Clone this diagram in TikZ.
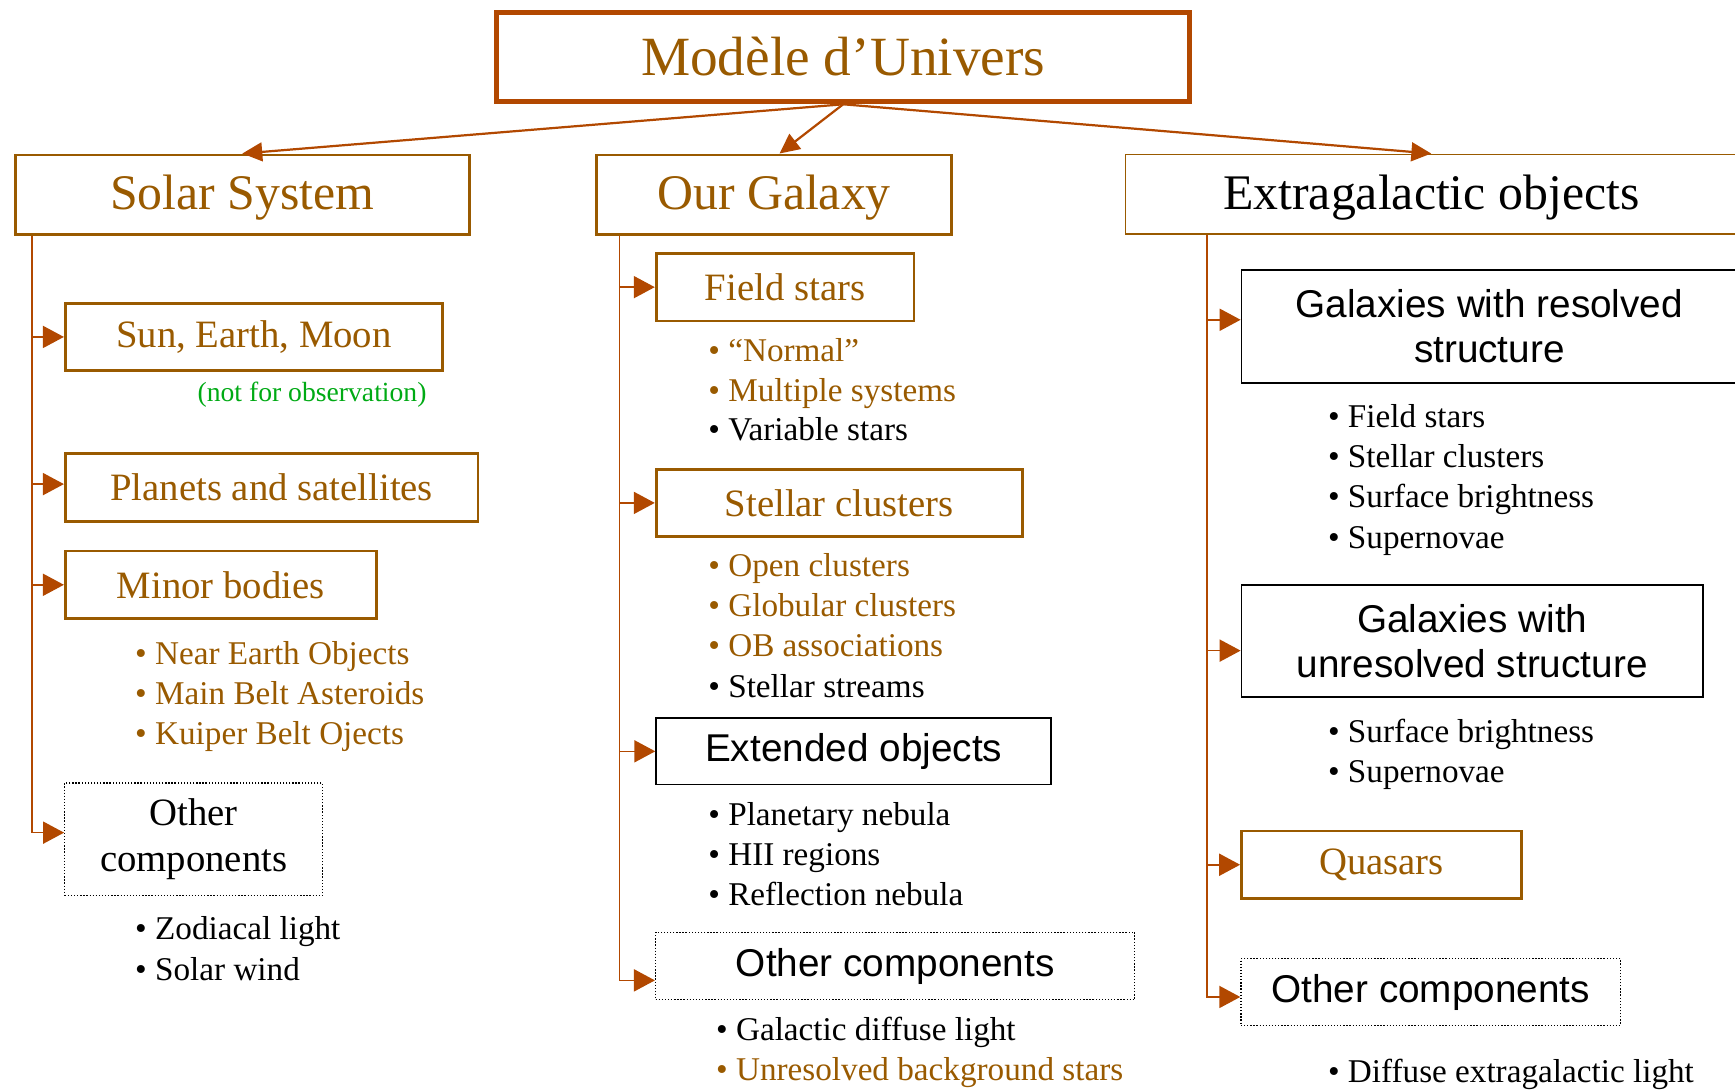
\documentclass[tikz,border=0pt]{standalone}
\usepackage{fontspec}
\setmainfont{Liberation Serif}
\newfontfamily\arial{Liberation Sans}
\usetikzlibrary{arrows.meta}

\definecolor{umber}{RGB}{153,90,0}
\definecolor{rust}{RGB}{178,72,0}
\definecolor{leaf}{RGB}{0,170,20}

\tikzset{
  catbox/.style={draw=umber, line width=2.5pt, text=umber, inner sep=0pt,
    font=\fontsize{35}{42}\selectfont},
  headbox/.style={catbox, text height=37pt, text depth=10pt,
    font=\fontsize{45}{54}\selectfont},
  plainbox/.style={draw=black, line width=1.6pt, inner sep=0pt, align=center,
    font=\arial\fontsize{35}{41}\selectfont},
  otherbox/.style={draw=black, line width=1.2pt, dash pattern=on 1.2pt off 1.6pt,
    inner sep=0pt, align=center},
  bulletline/.style={anchor=west, inner sep=0pt, text height=0.7em, text depth=0.22em,
    font=\fontsize{30}{36}\selectfont},
  down/.style={draw=rust, line width=2pt, -{Triangle[length=18pt,width=17pt]}},
  branch/.style={draw=rust, line width=1.4pt, -{Triangle[length=19pt,width=20pt]}}
}

\begin{document}
\begin{tikzpicture}[x=1pt,y=-1pt]
\useasboundingbox (0,0) rectangle (1568,985);

% top of the tree
\node[catbox, draw=rust, line width=4.5pt, minimum width=626, minimum height=81,
  font=\fontsize{50}{60}\selectfont] (univers) at (762,51.5) {Modèle d’Univers};
\node[headbox, minimum width=410, minimum height=72] (solar) at (219,176) {Solar System};
\node[headbox, minimum width=321, minimum height=72] (galaxy) at (699.5,176) {Our Galaxy};
\node[headbox, line width=1.5pt, text=black, minimum width=553, minimum height=72] (extra) at (1293.5,175.5) {Extragalactic objects};
\draw[down] (univers.south) -- (solar.north);
\draw[down] (univers.south) -- ([xshift=5pt]galaxy.north);
\draw[down] (univers.south) -- (extra.north);

% solar system
\node[catbox, minimum width=341, minimum height=61] (sun) at (229.5,304.5) {Sun, Earth, Moon};
\node[text=leaf, inner sep=0pt, font=\fontsize{25}{30}\selectfont] (noobs) at (282,357) {(not for observation)};
\node[catbox, minimum width=373, minimum height=61] (planets) at (245.5,440.5) {Planets and satellites};
\node[catbox, minimum width=281, minimum height=61] (minor) at (199.5,528.5) {Minor bodies};
\node[bulletline, text=umber] (neo) at (122,598) {• Near Earth Objects};
\node[bulletline, text=umber] (mba) at (122,634) {• Main Belt Asteroids};
\node[bulletline, text=umber] (kbo) at (122,670) {• Kuiper Belt Ojects};
\node[otherbox, minimum width=233, minimum height=102, font=\fontsize{35}{42}\selectfont] (ssOther) at (175,758.5) {Other\\components};
\node[bulletline] (zodi) at (122,847) {• Zodiacal light};
\node[bulletline] (wind) at (122,884) {• Solar wind};

\coordinate (ssTrunk) at (29,213);
\draw[branch] (ssTrunk) |- (sun);
\draw[branch] (ssTrunk) |- ([yshift=3pt]planets.west);
\draw[branch] (ssTrunk) |- (minor);
\draw[branch] (ssTrunk) |- ([yshift=6pt]ssOther.west);

% our galaxy
\node[catbox, minimum width=233, minimum height=61] (field) at (709.5,259.5) {Field stars};
\node[bulletline, text=umber] (normal) at (640,324) {• “Normal”};
\node[bulletline, text=umber] (multiple) at (640,360) {• Multiple systems};
\node[bulletline] (variable) at (640,396) {• Variable stars};
\node[catbox, minimum width=331, minimum height=61] (stellar) at (758.5,454.5) {Stellar clusters};
\node[bulletline, text=umber] (open) at (640,519) {• Open clusters};
\node[bulletline, text=umber] (globular) at (640,555) {• Globular clusters};
\node[bulletline, text=umber] (ob) at (640,591) {• OB associations};
\node[bulletline] (streams) at (640,628) {• Stellar streams};
\node[plainbox, minimum width=357, minimum height=60] (extended) at (771.5,679) {Extended objects};
\node[bulletline] (planetary) at (640,744) {• Planetary nebula};
\node[bulletline] (hii) at (640,780) {• HII regions};
\node[bulletline] (reflection) at (640,816) {• Reflection nebula};
\node[otherbox, minimum width=433, minimum height=61, font=\arial\fontsize{35}{41}\selectfont] (mgOther) at (809,873) {Other components};
\node[bulletline] (diffuse) at (647,938) {• Galactic diffuse light};
\node[bulletline, text=umber] (background) at (647,974) {• Unresolved background stars};

\coordinate (mgTrunk) at (560,213);
\draw[branch] (mgTrunk) |- (field);
\draw[branch] (mgTrunk) |- (stellar);
\draw[branch] (mgTrunk) |- (extended);
\draw[branch] (mgTrunk) |- ([yshift=-13pt]mgOther.west);

% extragalactic objects
\node[plainbox, minimum width=448, minimum height=102] (resolved) at (1346,295) {Galaxies with resolved\\structure};
\node[bulletline] (rField) at (1200,384) {• Field stars};
\node[bulletline] (rClusters) at (1200,420) {• Stellar clusters};
\node[bulletline] (rSurface) at (1200,456) {• Surface brightness};
\node[bulletline] (rSn) at (1200,493) {• Supernovae};
\node[plainbox, minimum width=417, minimum height=101] (unresolved) at (1330.5,579.5) {Galaxies with\\unresolved structure};
\node[bulletline] (uSurface) at (1200,669) {• Surface brightness};
\node[bulletline] (uSn) at (1200,705) {• Supernovae};
\node[catbox, minimum width=253, minimum height=61] (quasars) at (1248.5,781.5) {Quasars};
\node[otherbox, minimum width=343, minimum height=60, font=\arial\fontsize{35}{41}\selectfont] (egOther) at (1293,896.5) {Other components};
\node[bulletline] (egLight) at (1200,976) {• Diffuse extragalactic light};

\coordinate (egTrunk) at (1091,212);
\draw[branch] (egTrunk) |- ([yshift=6pt]resolved.west);
\draw[branch] (egTrunk) |- ([yshift=-8.5pt]unresolved.west);
\draw[branch] (egTrunk) |- (quasars);
\draw[branch] (egTrunk) |- ([yshift=-4.5pt]egOther.west);
\end{tikzpicture}
\end{document}
